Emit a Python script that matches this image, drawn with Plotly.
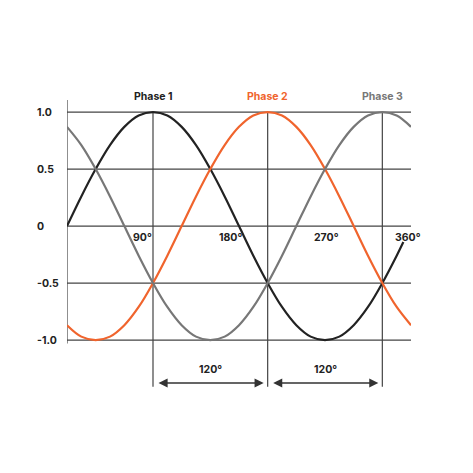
import plotly.graph_objects as go

# ---- data ----
angles = [0, 15, 30, 45, 60, 75, 90, 105, 120, 135, 150, 165, 180,
          195, 210, 225, 240, 255, 270, 285, 300, 315, 330, 345, 360]
phase1 = [0, 0.26, 0.5, 0.71, 0.87, 0.97, 1.0, 0.97, 0.87, 0.71, 0.5, 0.26, 0,
          -0.26, -0.5, -0.71, -0.87, -0.97, -1.0, -0.97, -0.87, -0.71, -0.5, -0.26]
phase1_end_angle = 352
phase1_end_value = -0.14
phase2 = [-0.87, -0.97, -1.0, -0.97, -0.87, -0.71, -0.5, -0.26, 0, 0.26, 0.5, 0.71, 0.87,
          0.97, 1.0, 0.97, 0.87, 0.71, 0.5, 0.26, 0, -0.26, -0.5, -0.71, -0.87]
phase3 = [0.87, 0.71, 0.5, 0.26, 0, -0.26, -0.5, -0.71, -0.87, -0.97, -1.0, -0.97, -0.87,
          -0.71, -0.5, -0.26, 0, 0.26, 0.5, 0.71, 0.87, 0.97, 1.0, 0.97, 0.87]

series_names = ["Phase 1", "Phase 2", "Phase 3"]
series_peaks = [90, 210, 330]
y_ticks = [1.0, 0.5, 0, -0.5, -1.0]
y_tick_labels = ["1.0", "0.5", "0", "-0.5", "-1.0"]
deg_ticks = [90, 180, 270, 360]
deg_labels = ["90°", "180°", "270°", "360°"]
span_label = "120°"

colors = ["#222222", "#f0642d", "#777777"]
grid_color = "#444444"
FONT = "Inter, Roboto, 'Liberation Sans', sans-serif"
FS = 10.5

x1 = angles[:len(phase1)] + [phase1_end_angle]
y1 = phase1 + [phase1_end_value]

fig = go.Figure()
for name, xs, ys, c in zip(series_names, [x1, angles, angles], [y1, phase2, phase3], colors):
    fig.add_trace(go.Scatter(x=xs, y=ys, mode="lines", name=name,
                             line=dict(color=c, width=2.2, shape="spline", smoothing=1.0),
                             showlegend=False, hoverinfo="skip"))

shapes = []
for yv in y_ticks:
    shapes.append(dict(type="line", xref="x", yref="y", x0=0, x1=360, y0=yv, y1=yv,
                       line=dict(color=grid_color, width=1.2), layer="below"))
shapes.append(dict(type="line", xref="x", yref="y", x0=0, x1=0, y0=1.105, y1=-1.03,
                   line=dict(color=grid_color, width=1.2), layer="below"))
for xv in series_peaks:
    shapes.append(dict(type="line", xref="x", yref="y", x0=xv, x1=xv, y0=1.0, y1=-1.41,
                       line=dict(color=grid_color, width=1.2), layer="below"))

annotations = []
for yv, lab in zip(y_ticks, y_tick_labels):
    annotations.append(dict(x=-0.093, xref="paper", y=yv, yref="y", text=lab, showarrow=False,
                            xanchor="left", yanchor="middle",
                            font=dict(family=FONT, size=FS, color="#222222", weight="bold")))
deg_shift = [-11, -9, 1, -3]
for xv, lab, sh in zip(deg_ticks, deg_labels, deg_shift):
    annotations.append(dict(x=xv, y=0, xref="x", yref="y", text=lab, showarrow=False,
                            xanchor="center", yanchor="middle", xshift=sh, yshift=-11,
                            font=dict(family=FONT, size=FS, color="#222222", weight="bold")))
for name, xv, c in zip(series_names, series_peaks, colors):
    annotations.append(dict(x=xv, y=1.0, xref="x", yref="y", text=name, showarrow=False,
                            xanchor="center", yanchor="middle", yshift=16,
                            font=dict(family=FONT, size=FS, color=c, weight="bold")))
for a, b in zip(series_peaks[:-1], series_peaks[1:]):
    annotations.append(dict(x=b, y=-1.377, ax=a, ay=-1.377, xref="x", yref="y",
                            axref="x", ayref="y", text="", showarrow=True,
                            arrowside="start+end", arrowhead=2, arrowsize=1.3,
                            arrowwidth=1.4, arrowcolor="#333333",
                            standoff=4, startstandoff=4))
    annotations.append(dict(x=(a + b) / 2, y=-1.377, xref="x", yref="y", text=span_label,
                            showarrow=False, yshift=14, xanchor="center", yanchor="middle",
                            font=dict(family=FONT, size=FS, color="#222222", weight="bold")))

fig.update_layout(
    width=473, height=473,
    margin=dict(l=59, r=70, t=72, b=81),
    paper_bgcolor="white", plot_bgcolor="white",
    xaxis=dict(range=[0, 360], visible=False, fixedrange=True),
    yaxis=dict(range=[-1.526, 1.281], visible=False, fixedrange=True),
    shapes=shapes, annotations=annotations,
)
fig.write_html("out.html")
